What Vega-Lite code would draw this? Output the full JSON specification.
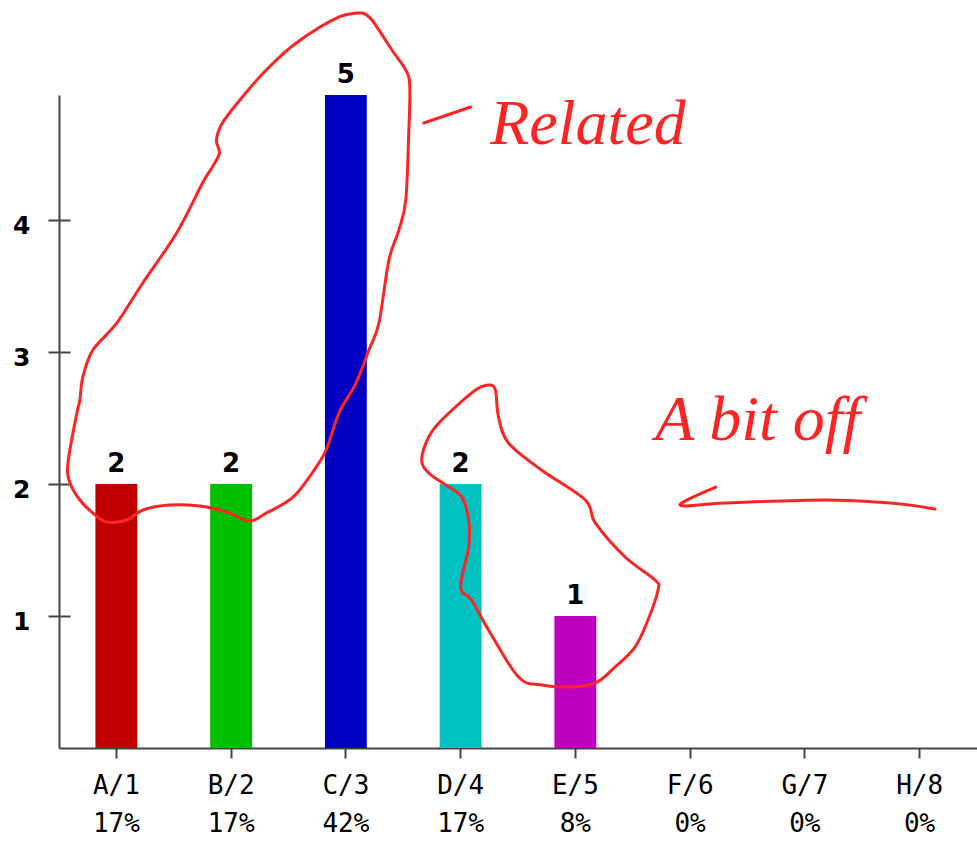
{
  "$schema": "https://vega.github.io/schema/vega-lite/v6.json",
  "width": 918,
  "height": 653,
  "autosize": {"type": "none"},
  "padding": {"left": 59, "top": 95, "right": 0, "bottom": 95},
  "background": "white",
  "config": {"view": {"stroke": null}},
  "datasets": {
    "bars": [
      {"label": "A/1 17%", "cat": "A", "count": 2},
      {"label": "B/2 17%", "cat": "B", "count": 2},
      {"label": "C/3 42%", "cat": "C", "count": 5},
      {"label": "D/4 17%", "cat": "D", "count": 2},
      {"label": "E/5 8%", "cat": "E", "count": 1},
      {"label": "F/6 0%", "cat": "F", "count": 0},
      {"label": "G/7 0%", "cat": "G", "count": 0},
      {"label": "H/8 0%", "cat": "H", "count": 0}
    ],
    "strokes": [
      {"s": "big", "i": 1, "ax": 2.640, "ay": 5.568},
      {"s": "big", "i": 2, "ax": 2.440, "ay": 5.538},
      {"s": "big", "i": 3, "ax": 2.067, "ay": 5.341},
      {"s": "big", "i": 4, "ax": 1.806, "ay": 5.136},
      {"s": "big", "i": 5, "ax": 1.598, "ay": 4.932},
      {"s": "big", "i": 6, "ax": 1.424, "ay": 4.735},
      {"s": "big", "i": 7, "ax": 1.372, "ay": 4.606},
      {"s": "big", "i": 8, "ax": 1.398, "ay": 4.508},
      {"s": "big", "i": 9, "ax": 1.337, "ay": 4.402},
      {"s": "big", "i": 10, "ax": 1.251, "ay": 4.280},
      {"s": "big", "i": 11, "ax": 1.025, "ay": 3.902},
      {"s": "big", "i": 12, "ax": 0.730, "ay": 3.523},
      {"s": "big", "i": 13, "ax": 0.504, "ay": 3.220},
      {"s": "big", "i": 14, "ax": 0.295, "ay": 3.015},
      {"s": "big", "i": 15, "ax": 0.208, "ay": 2.811},
      {"s": "big", "i": 16, "ax": 0.182, "ay": 2.636},
      {"s": "big", "i": 17, "ax": 0.156, "ay": 2.538},
      {"s": "big", "i": 18, "ax": 0.078, "ay": 2.159},
      {"s": "big", "i": 19, "ax": 0.096, "ay": 2.008},
      {"s": "big", "i": 20, "ax": 0.182, "ay": 1.879},
      {"s": "big", "i": 21, "ax": 0.295, "ay": 1.780},
      {"s": "big", "i": 22, "ax": 0.417, "ay": 1.712},
      {"s": "big", "i": 23, "ax": 0.591, "ay": 1.727},
      {"s": "big", "i": 24, "ax": 0.730, "ay": 1.803},
      {"s": "big", "i": 25, "ax": 0.964, "ay": 1.841},
      {"s": "big", "i": 26, "ax": 1.225, "ay": 1.833},
      {"s": "big", "i": 27, "ax": 1.459, "ay": 1.788},
      {"s": "big", "i": 28, "ax": 1.659, "ay": 1.720},
      {"s": "big", "i": 29, "ax": 1.806, "ay": 1.780},
      {"s": "big", "i": 30, "ax": 2.032, "ay": 1.894},
      {"s": "big", "i": 31, "ax": 2.206, "ay": 2.083},
      {"s": "big", "i": 32, "ax": 2.328, "ay": 2.258},
      {"s": "big", "i": 33, "ax": 2.440, "ay": 2.538},
      {"s": "big", "i": 34, "ax": 2.588, "ay": 2.765},
      {"s": "big", "i": 35, "ax": 2.701, "ay": 3.015},
      {"s": "big", "i": 36, "ax": 2.788, "ay": 3.220},
      {"s": "big", "i": 37, "ax": 2.875, "ay": 3.697},
      {"s": "big", "i": 38, "ax": 2.962, "ay": 3.924},
      {"s": "big", "i": 39, "ax": 3.022, "ay": 4.152},
      {"s": "big", "i": 40, "ax": 3.048, "ay": 4.659},
      {"s": "big", "i": 41, "ax": 3.057, "ay": 5.008},
      {"s": "big", "i": 42, "ax": 3.022, "ay": 5.136},
      {"s": "big", "i": 43, "ax": 2.901, "ay": 5.288},
      {"s": "big", "i": 44, "ax": 2.727, "ay": 5.515},
      {"s": "big", "i": 45, "ax": 2.640, "ay": 5.568},
      {"s": "small", "i": 1, "ax": 3.761, "ay": 2.750},
      {"s": "small", "i": 2, "ax": 3.630, "ay": 2.712},
      {"s": "small", "i": 3, "ax": 3.335, "ay": 2.485},
      {"s": "small", "i": 4, "ax": 3.222, "ay": 2.356},
      {"s": "small", "i": 5, "ax": 3.161, "ay": 2.182},
      {"s": "small", "i": 6, "ax": 3.222, "ay": 2.083},
      {"s": "small", "i": 7, "ax": 3.370, "ay": 1.992},
      {"s": "small", "i": 8, "ax": 3.509, "ay": 1.902},
      {"s": "small", "i": 9, "ax": 3.570, "ay": 1.727},
      {"s": "small", "i": 10, "ax": 3.570, "ay": 1.523},
      {"s": "small", "i": 11, "ax": 3.500, "ay": 1.220},
      {"s": "small", "i": 12, "ax": 3.596, "ay": 1.121},
      {"s": "small", "i": 13, "ax": 3.743, "ay": 0.894},
      {"s": "small", "i": 14, "ax": 4.004, "ay": 0.538},
      {"s": "small", "i": 15, "ax": 4.204, "ay": 0.477},
      {"s": "small", "i": 16, "ax": 4.438, "ay": 0.462},
      {"s": "small", "i": 17, "ax": 4.673, "ay": 0.492},
      {"s": "small", "i": 18, "ax": 4.846, "ay": 0.614},
      {"s": "small", "i": 19, "ax": 5.020, "ay": 0.765},
      {"s": "small", "i": 20, "ax": 5.133, "ay": 0.970},
      {"s": "small", "i": 21, "ax": 5.220, "ay": 1.197},
      {"s": "small", "i": 22, "ax": 5.194, "ay": 1.273},
      {"s": "small", "i": 23, "ax": 4.933, "ay": 1.447},
      {"s": "small", "i": 24, "ax": 4.673, "ay": 1.705},
      {"s": "small", "i": 25, "ax": 4.586, "ay": 1.879},
      {"s": "small", "i": 26, "ax": 4.204, "ay": 2.106},
      {"s": "small", "i": 27, "ax": 3.917, "ay": 2.311},
      {"s": "small", "i": 28, "ax": 3.830, "ay": 2.508},
      {"s": "small", "i": 29, "ax": 3.804, "ay": 2.712},
      {"s": "small", "i": 30, "ax": 3.761, "ay": 2.750},
      {"s": "arrow", "i": 1, "ax": 5.723, "ay": 1.977},
      {"s": "arrow", "i": 2, "ax": 5.411, "ay": 1.841},
      {"s": "arrow", "i": 3, "ax": 5.802, "ay": 1.856},
      {"s": "arrow", "i": 4, "ax": 6.670, "ay": 1.879},
      {"s": "arrow", "i": 5, "ax": 7.243, "ay": 1.856},
      {"s": "arrow", "i": 6, "ax": 7.634, "ay": 1.811},
      {"s": "dash", "i": 1, "ax": 3.179, "ay": 4.735},
      {"s": "dash", "i": 2, "ax": 3.587, "ay": 4.856}
    ],
    "notes": [
      {"note": "Related", "ax": 4.61, "ay": 4.72},
      {"note": "A bit off", "ax": 6.09, "ay": 2.48}
    ]
  },
  "layer": [
    {
      "data": {"name": "bars"},
      "encoding": {
        "x": {
          "field": "label",
          "type": "nominal",
          "sort": null,
          "scale": {"paddingInner": 0.635, "paddingOuter": 0.3175},
          "axis": {
            "title": null,
            "labelExpr": "split(datum.label, ' ')",
            "labelAngle": 0,
            "labelFont": "DejaVu Sans Mono",
            "labelFontSize": 26,
            "labelLineHeight": 38,
            "labelBaseline": "top",
            "labelPadding": 14,
            "labelColor": "#000000",
            "labelOverlap": false,
            "tickSize": 10,
            "tickWidth": 2,
            "tickColor": "#444444",
            "domainColor": "#444444",
            "domainWidth": 2
          }
        },
        "y": {
          "field": "count",
          "type": "quantitative",
          "scale": {"domain": [0, 4.947], "nice": false, "zero": true, "clamp": true},
          "axis": {
            "title": null,
            "values": [1, 2, 3, 4],
            "labelFont": "DejaVu Sans",
            "labelFontSize": 25,
            "labelFontWeight": "bold",
            "labelColor": "#000000",
            "labelPadding": 18,
            "labelOffset": 5,
            "tickSize": 11,
            "tickWidth": 2,
            "tickColor": "#444444",
            "domainColor": "#444444",
            "domainWidth": 2,
            "grid": true,
            "gridDash": [11, 3000],
            "gridColor": "#444444",
            "gridWidth": 2,
            "gridOpacity": 1
          }
        }
      },
      "layer": [
        {
          "mark": {"type": "bar"},
          "encoding": {
            "color": {
              "field": "cat",
              "type": "nominal",
              "legend": null,
              "scale": {
                "domain": ["A", "B", "C", "D", "E", "F", "G", "H"],
                "range": ["#c00000", "#00c000", "#0000c0", "#00c0c0", "#c000c0", "#888888", "#888888", "#888888"]
              }
            }
          }
        },
        {
          "transform": [{"filter": "datum.count > 0"}],
          "mark": {"type": "text", "baseline": "alphabetic", "dy": -12, "font": "DejaVu Sans", "fontSize": 26, "fontWeight": "bold", "color": "#000000"},
          "encoding": {"text": {"field": "count", "type": "quantitative"}}
        }
      ]
    },
    {
      "data": {"name": "strokes"},
      "mark": {"type": "line", "color": "#ff2424", "strokeWidth": 3, "strokeCap": "round", "strokeJoin": "round", "interpolate": "cardinal"},
      "encoding": {
        "x": {"field": "ax", "type": "quantitative", "scale": {"domain": [0, 8], "nice": false, "zero": false}, "axis": null},
        "y": {"field": "ay", "type": "quantitative", "scale": {"domain": [0, 4.947], "nice": false, "zero": true}, "axis": null},
        "detail": {"field": "s", "type": "nominal"},
        "order": {"field": "i", "type": "quantitative"}
      }
    },
    {
      "data": {"name": "notes"},
      "mark": {"type": "text", "color": "#ff2424", "font": "Liberation Serif", "fontStyle": "italic", "fontSize": 64, "align": "center", "baseline": "middle"},
      "encoding": {
        "x": {"field": "ax", "type": "quantitative", "scale": {"domain": [0, 8], "nice": false, "zero": false}, "axis": null},
        "y": {"field": "ay", "type": "quantitative", "scale": {"domain": [0, 4.947], "nice": false, "zero": true}, "axis": null},
        "text": {"field": "note", "type": "nominal"}
      }
    }
  ],
  "resolve": {"scale": {"x": "independent", "y": "independent"}}
}
